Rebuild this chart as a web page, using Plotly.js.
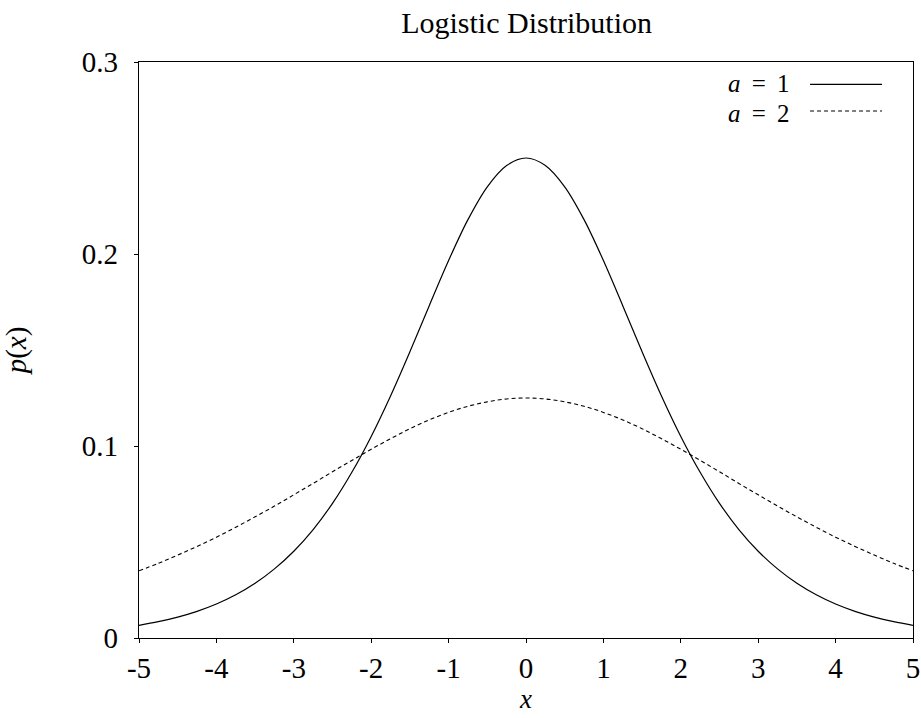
<!DOCTYPE html>
<html>
<head>
<meta charset="utf-8">
<script src="https://cdn.plot.ly/plotly-3.0.1.min.js"></script>
<style>
  body { margin: 0; background: #fff; }
  #chart { width: 921px; height: 718px; }
</style>
</head>
<body>
<div id="chart"></div>
<script>
"use strict";

// values
var xs = [-5, -4.75, -4.5, -4.25, -4, -3.75, -3.5, -3.25, -3, -2.75, -2.5, -2.25, -2, -1.75, -1.5, -1.25, -1, -0.75, -0.5, -0.25,
          0, 0.25, 0.5, 0.75, 1, 1.25, 1.5, 1.75, 2, 2.25, 2.5, 2.75, 3, 3.25, 3.5, 3.75, 4, 4.25, 4.5, 4.75, 5];
var densityA1 = [0.0066, 0.0085, 0.0109, 0.0139, 0.0177, 0.0225, 0.0285, 0.0360, 0.0452, 0.0565, 0.0701, 0.0863, 0.1050, 0.1261, 0.1491, 0.1731, 0.1966, 0.2179, 0.2350, 0.2461,
                 0.2500, 0.2461, 0.2350, 0.2179, 0.1966, 0.1731, 0.1491, 0.1261, 0.1050, 0.0863, 0.0701, 0.0565, 0.0452, 0.0360, 0.0285, 0.0225, 0.0177, 0.0139, 0.0109, 0.0085, 0.0066];
var densityA2 = [0.0350, 0.0389, 0.0432, 0.0477, 0.0525, 0.0577, 0.0631, 0.0687, 0.0746, 0.0805, 0.0866, 0.0925, 0.0983, 0.1038, 0.1090, 0.1136, 0.1175, 0.1207, 0.1230, 0.1245,
                 0.1250, 0.1245, 0.1230, 0.1207, 0.1175, 0.1136, 0.1090, 0.1038, 0.0983, 0.0925, 0.0866, 0.0805, 0.0746, 0.0687, 0.0631, 0.0577, 0.0525, 0.0477, 0.0432, 0.0389, 0.0350];
var xTicks = [-5, -4, -3, -2, -1, 0, 1, 2, 3, 4, 5];
var xTickText = ["-5", "-4", "-3", "-2", "-1", "0", "1", "2", "3", "4", "5"];
var yTicks = [0, 0.1, 0.2, 0.3];
var yTickText = ["0", "0.1", "0.2", "0.3"];
var seriesNames = ["<i>a</i> \u2009=\u2009 1", "<i>a</i> \u2009=\u2009 2"];

var serif = "Liberation Serif, Times New Roman, serif";
var fontSize = 29;

var traces = [
    {
        x: xs, y: densityA1, type: "scatter", mode: "lines",
        name: seriesNames[0],
        line: { color: "#000", width: 1.2, shape: "spline" }
    },
    {
        x: xs, y: densityA2, type: "scatter", mode: "lines",
        name: seriesNames[1],
        line: { color: "#000", width: 1.1, shape: "spline", dash: "4px,3px" }
    }
];

var axisCommon = {
    showgrid: false,
    zeroline: false,
    showline: true,
    linecolor: "#000",
    linewidth: 1.3,
    mirror: true,
    ticks: "outside",
    ticklen: 4,
    tickwidth: 1,
    tickcolor: "#000",
    tickfont: { family: serif, size: fontSize, color: "#000" }
};

var layout = {
    width: 921,
    height: 718,
    margin: { l: 139, r: 8, t: 62, b: 80 },
    paper_bgcolor: "#fff",
    plot_bgcolor: "#fff",
    showlegend: false,
    title: {
        text: "Logistic Distribution",
        font: { family: serif, size: 30, color: "#000" },
        x: 0.5718, xanchor: "center",
        y: 0.969, yanchor: "middle"
    },
    xaxis: Object.assign({}, axisCommon, {
        range: [-5, 5],
        tickvals: xTicks,
        ticktext: xTickText,
        ticklabelstandoff: 0,
        title: { text: "<i>x</i>", font: { family: serif, size: 27, color: "#000" }, standoff: 4 }
    }),
    yaxis: Object.assign({}, axisCommon, {
        range: [0, 0.3],
        tickvals: yTicks,
        ticktext: yTickText,
        ticklabelstandoff: 10,
        title: { text: "<i>p</i>(<i>x</i>)", font: { family: serif, size: fontSize, color: "#000" }, standoff: 48 }
    }),
    annotations: [
        { xref: "paper", yref: "paper", x: 0.8437, y: 0.962, xanchor: "right", yanchor: "middle",
          text: seriesNames[0], showarrow: false, font: { family: serif, size: 25, color: "#000" } },
        { xref: "paper", yref: "paper", x: 0.8437, y: 0.911, xanchor: "right", yanchor: "middle",
          text: seriesNames[1], showarrow: false, font: { family: serif, size: 25, color: "#000" } }
    ],
    shapes: [
        { type: "line", xref: "paper", yref: "paper", x0: 0.867, x1: 0.960, y0: 0.961, y1: 0.961,
          line: { color: "#000", width: 1.2 } },
        { type: "line", xref: "paper", yref: "paper", x0: 0.867, x1: 0.960, y0: 0.915, y1: 0.915,
          line: { color: "#000", width: 1.1, dash: "4px,3px" } }
    ]
};

Plotly.newPlot("chart", traces, layout, { displayModeBar: false, staticPlot: true });
</script>
</body>
</html>
